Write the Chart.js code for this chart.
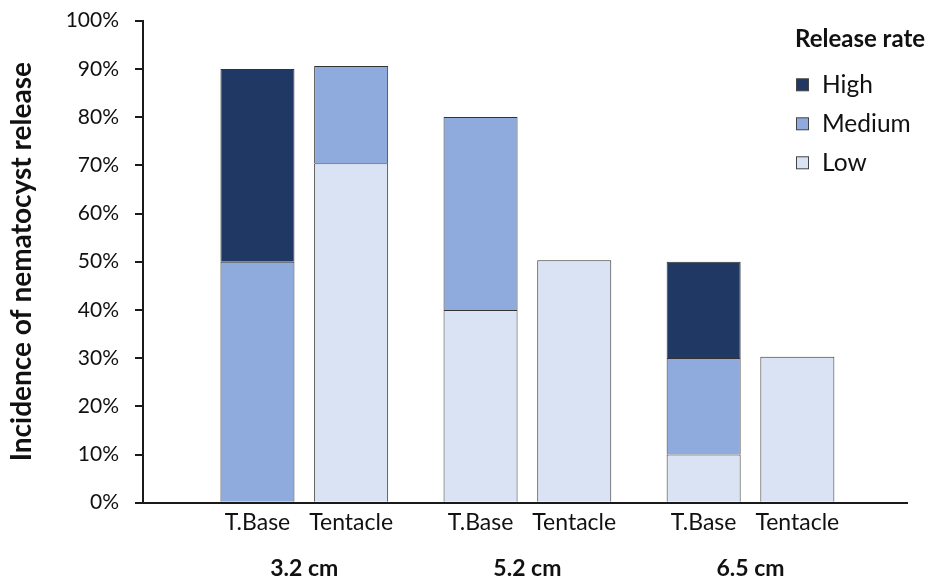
<!DOCTYPE html>
<html>
<head>
<meta charset="utf-8">
<script src="https://cdn.jsdelivr.net/npm/chart.js@4.4.1/dist/chart.umd.min.js"></script>
<style>
  html, body { margin: 0; padding: 0; background: #fff; }
  #wrap { width: 933px; height: 581px; position: relative; }
</style>
</head>
<body>
<div id="wrap"><canvas id="c"></canvas></div>
<script>
// Tentacle length groups and the two sampled parts within each group
const groups = ['3.2 cm', '5.2 cm', '6.5 cm'];
const parts = ['T.Base', 'Tentacle'];
const levels = ['Low', 'Medium', 'High'];

// Incidence of nematocyst release (%) per group, split by release rate
const baseLow = [0, 40, 10];
const baseMedium = [50, 40, 20];
const baseHigh = [40, 0, 20];
const tentacleLow = [70.4, 50.3, 30.3];
const tentacleMedium = [20.2, 0, 0];
const tentacleHigh = [0, 0, 0];

// Value axis
const yMin = 0;
const yMax = 100;
const yStep = 10;

const levelColors = { Low: '#DAE3F3', Medium: '#8FAADC', High: '#203864' };
const series = {
  'T.Base': [baseLow, baseMedium, baseHigh],
  'Tentacle': [tentacleLow, tentacleMedium, tentacleHigh]
};

const datasets = parts.flatMap(part => levels.map((lv, k) => ({
  label: lv,
  stack: part,
  data: series[part][k].map((v, i) => ({ x: i, y: v || null })),
  backgroundColor: levelColors[lv],
  borderColor: '#333',
  borderWidth: 1
})));

Chart.defaults.font.family = 'Lato';
Chart.defaults.color = '#111';

// Part names written under each stacked column
const partLabels = {
  id: 'partLabels',
  afterDraw(chart) {
    const { ctx, chartArea } = chart;
    ctx.save();
    ctx.font = '23px Lato';
    ctx.fillStyle = '#111';
    ctx.textAlign = 'center';
    ctx.textBaseline = 'alphabetic';
    parts.forEach(part => {
      groups.forEach((g, i) => {
        const xs = chart.data.datasets
          .map((ds, d) => ds.stack === part ? chart.getDatasetMeta(d).data[i]?.x : NaN)
          .filter(Number.isFinite);
        if (xs.length) ctx.fillText(part, xs[0], chartArea.bottom + 27.5);
      });
    });
    ctx.restore();
  }
};

// Release-rate key in the upper right corner
const rateKey = {
  id: 'rateKey',
  afterDraw(chart) {
    const { ctx } = chart;
    ctx.save();
    ctx.textAlign = 'left';
    ctx.textBaseline = 'alphabetic';
    ctx.fillStyle = '#111';
    ctx.font = 'bold 24px Lato';
    ctx.fillText('Release rate', 795, 47);
    [...levels].reverse().forEach((lv, k) => {
      const base = 93.3 + k * 39;
      ctx.fillStyle = levelColors[lv];
      ctx.fillRect(796.5, base - 14.5, 12, 12);
      ctx.strokeStyle = '#444';
      ctx.lineWidth = 1;
      ctx.strokeRect(796.5, base - 14.5, 12, 12);
      ctx.fillStyle = '#111';
      ctx.font = '24.5px Lato';
      ctx.fillText(lv, 822, base);
    });
    ctx.restore();
  }
};

new Chart(document.getElementById('c'), {
  type: 'bar',
  data: { datasets },
  plugins: [partLabels, rateKey],
  options: {
    responsive: true,
    maintainAspectRatio: false,
    animation: false,
    events: [],
    layout: { padding: { top: 20.7, right: 26, bottom: 0, left: 0 } },
    categoryPercentage: 0.84,
    barPercentage: 0.79,
    plugins: { legend: { display: false }, tooltip: { enabled: false } },
    scales: {
      x: {
        type: 'linear',
        stacked: true,
        offset: false,
        min: -0.723,
        max: 2.7015,
        afterBuildTicks: (scale) => { scale.ticks = groups.map((g, i) => ({ value: i })); },
        afterFit: (scale) => { scale.height = 78.3; },
        grid: { display: false, drawTicks: false, offset: false },
        border: { display: true, color: '#1a1a1a', width: 2 },
        ticks: {
          autoSkip: false,
          maxRotation: 0,
          padding: 52,
          color: '#111',
          font: { size: 23, weight: 'bold' },
          callback: (v) => groups[v]
        }
      },
      y: {
        stacked: true,
        min: yMin,
        max: yMax,
        afterFit: (scale) => {
          scale.width = 143;
          scale.paddingTop = 0;
          scale.paddingBottom = 0;
        },
        grid: { drawOnChartArea: false, drawTicks: true, tickLength: 8, color: '#1a1a1a', lineWidth: 2 },
        border: { display: true, color: '#1a1a1a', width: 2 },
        ticks: {
          stepSize: yStep,
          padding: 16,
          color: '#111',
          font: { size: 21 },
          callback: (v) => v + '%'
        },
        title: {
          display: true,
          text: 'Incidence of nematocyst release',
          color: '#111',
          font: { size: 28, weight: 'bold' },
          padding: { top: 5, bottom: 0 }
        }
      }
    }
  }
});
</script>
</body>
</html>
